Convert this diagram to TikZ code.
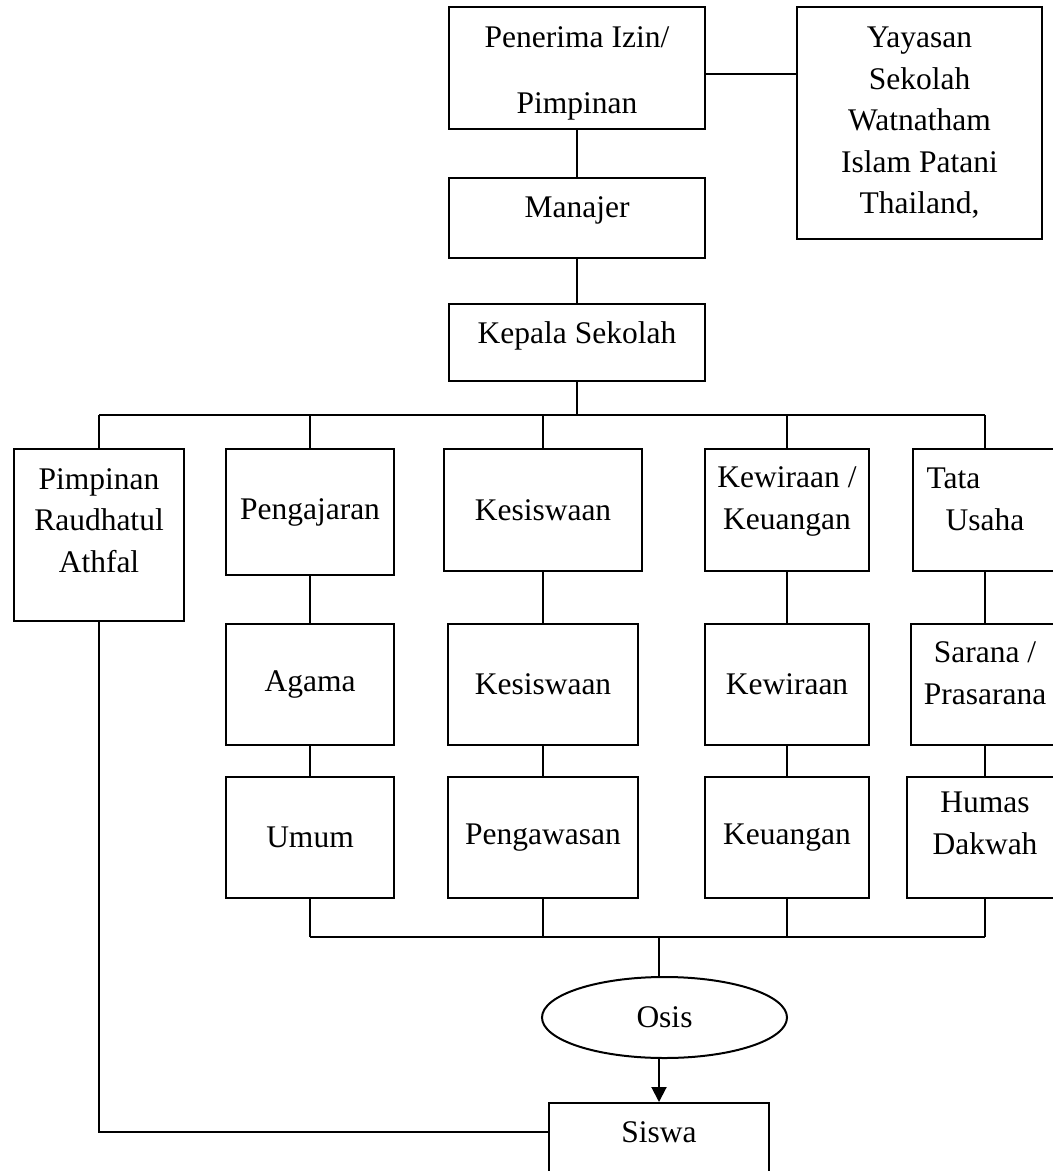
\documentclass[tikz,border=0pt]{standalone}
\usepackage{fontspec}
\setmainfont{Liberation Serif}
\usetikzlibrary{arrows.meta,calc,shapes.geometric}

\newcommand{\chartfont}{\fontsize{15.75}{20.75}\selectfont}
\newcommand{\lift}[1]{\\[#1]\mbox{}}

\tikzset{every picture/.style={line width=1pt}}
\tikzset{box/.style={draw, rectangle, align=center, inner sep=1pt, font=\chartfont}}

\begin{document}
\begin{tikzpicture}[x=0.5pt,y=0.5pt,yscale=-1]

\useasboundingbox (0,0) rectangle (1053,1171);
\clip (0,0) rectangle (1053,1171);

\node [box, minimum width=128pt, minimum height=61pt] (pen) at (577,68) {\mbox{}\\[-5pt]Penerima Izin/\\[12.25pt]Pimpinan};
\node [box, minimum width=122.5pt, minimum height=116pt] (yay) at (919.5,123) {Yayasan\\Sekolah\\Watnatham\\Islam Patani\\Thailand,};
\node [box, minimum width=128pt, minimum height=40pt] (man) at (577,218) {Manajer\lift{-10.3pt}};
\node [box, minimum width=128pt, minimum height=38.5pt] (kep) at (577,342.5) {Kepala Sekolah\lift{-10.5pt}};

\node [box, minimum width=85pt, minimum height=86pt] (rau) at (99,535) {Pimpinan\\Raudhatul\\Athfal\lift{-6.25pt}};
\node [box, minimum width=84pt, minimum height=63pt] (pgj) at (310,512) {Pengajaran};
\node [box, minimum width=99pt, minimum height=61pt] (kes) at (543,510) {Kesiswaan};
\node [box, minimum width=82pt, minimum height=61pt] (kwk) at (787,510) {Kewiraan /\\Keuangan\lift{-9pt}};
\node [box, minimum width=72pt, minimum height=61pt] (tus) at (985,510) {Tata\hspace*{2em}\\Usaha\lift{-10pt}};

\node [box, minimum width=84pt, minimum height=60.5pt] (aga) at (310,684.5) {Agama};
\node [box, minimum width=95pt, minimum height=60.5pt] (ksw) at (543,684.5) {Kesiswaan};
\node [box, minimum width=82pt, minimum height=60.5pt] (kwr) at (787,684.5) {Kewiraan};
\node [box, minimum width=74pt, minimum height=60.5pt] (spr) at (985,684.5) {Sarana /\\Prasarana\lift{-9.35pt}};

\node [box, minimum width=84pt, minimum height=60.5pt] (umu) at (310,837.5) {Umum};
\node [box, minimum width=95pt, minimum height=60.5pt] (pgw) at (543,837.5) {Pengawasan};
\node [box, minimum width=82pt, minimum height=60.5pt] (keu) at (787,837.5) {Keuangan};
\node [box, minimum width=78pt, minimum height=60.5pt] (hum) at (985,837.5) {Humas\\Dakwah\lift{-6.35pt}};

\node [box, ellipse, inner sep=0pt, minimum width=122.5pt, minimum height=40.5pt] (osi) at (664.5,1017.5) {Osis};
\node [box, minimum width=110pt, minimum height=55pt] (sis) at (659,1158) {Siswa\lift{4.9pt}};

\coordinate (busT) at (577,415);
\coordinate (busB) at (659,937);

\draw (pen) -- (man);
\draw (man) -- (kep);
\draw ($(pen.east)+(0,6)$) -- ($(pen.east -| yay.west)+(0,6)$);

\draw (kep) -- (busT);
\draw (rau.north |- busT) -- (tus.north |- busT);
\foreach \n in {rau,pgj,kes,kwk,tus}
  \draw (\n.north) -- (\n.north |- busT);

\foreach \a/\b in {pgj/aga,aga/umu,kes/ksw,ksw/pgw,kwk/kwr,kwr/keu,tus/spr,spr/hum}
  \draw (\a) -- (\b);

\draw (umu.south |- busB) -- (hum.south |- busB);
\foreach \n in {umu,pgw,keu,hum}
  \draw (\n.south) -- (\n.south |- busB);

\draw (busB) -- (busB |- osi.north);
\draw [-{Triangle[length=7.5pt,width=7.5pt]}] (sis.north |- osi.south) -- (sis.north);
\draw (rau.south) |- ($(sis.north west)+(0,30)$);

\end{tikzpicture}
\end{document}
